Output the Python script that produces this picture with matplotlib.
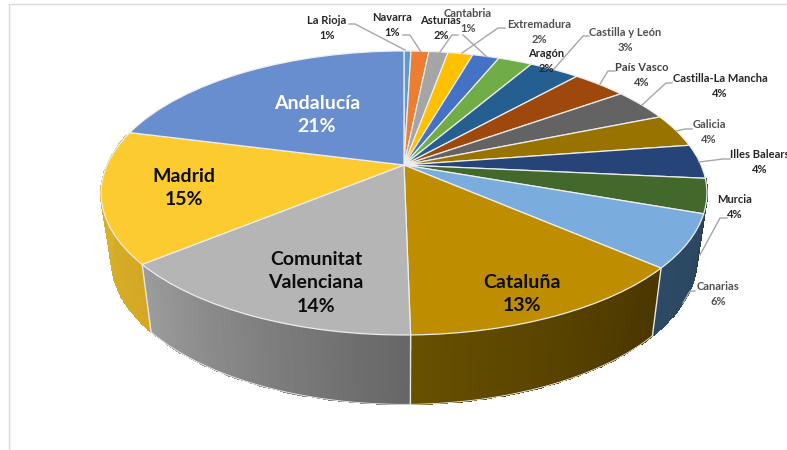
import numpy as np
import matplotlib
matplotlib.use("Agg")
import matplotlib.pyplot as plt
from matplotlib.colors import LinearSegmentedColormap
from matplotlib.transforms import Transform

plt.rcParams['font.family'] = ['Lato', 'DejaVu Sans']

regions = ["La Rioja", "Navarra", "Asturias", "Extremadura", "Cantabria", "Aragón",
           "Castilla y León", "País Vasco", "Castilla-La Mancha", "Galicia",
           "Illes Balears", "Murcia", "Canarias", "Cataluña", "Comunitat\nValenciana",
           "Madrid", "Andalucía"]
shares = [0.45, 1.15, 1.23, 1.62, 1.72, 2.2, 3.26, 3.5, 3.7, 3.8, 3.9, 3.9, 6.0,
          13.3, 14.3, 15.0, 21.0]
share_labels = ["1%", "1%", "2%", "2%", "1%", "2%", "3%", "4%", "4%", "4%", "4%", "4%", "6%",
                "13%", "14%", "15%", "21%"]

face_colors = ["#5B9BD5", "#ED7D31", "#A5A5A5", "#FFC000", "#4472C4", "#70AD47", "#255E91",
               "#9E480E", "#636363", "#997300", "#264478", "#43682B", "#7AADDE",
               "#BE8E00", "#B5B5B5", "#FBCB30", "#698ED0"]
wall_left = {11: "#2A4020", 12: "#2C4A66", 13: "#675000", 14: "#9C9C9C", 15: "#DDB630"}
wall_right = {11: "#2A4020", 12: "#2C4660", 13: "#4A3600", 14: "#666666", 15: "#D4A824"}

# layout (pixel positions in the 787x450 frame)
label_pos = [(327, 28), (392, 25), (441, 28), (539, 32), (468, 21), (546, 61), (625, 40),
             (642, 75), (720, 86), (709, 132), (760, 162), (735, 207), (718, 294),
             (522, 294), (316, 283), (184, 188), (317, 115)]
label_col = ["#262626", "#262626", "#262626", "#505050", "#505050", "#262626", "#505050",
             "#404040", "#262626", "#505050", "#262626", "#262626", "#505050",
             "#0D0D0D", "#0D0D0D", "#0D0D0D", "#FFFFFF"]
leaders = [[(349, 24), (355, 24), (405, 50)],
           [(403, 35), (410, 35), (421, 52)],
           [(458, 35), (452, 35), (440, 52)],
           [(505, 28), (498, 28), (462, 53)],
           [(463, 35), (487, 57)],
           [],
           [(589, 36), (583, 36), (553, 70)],
           [(615, 71), (608, 71), (600, 84)],
           [(672, 83), (666, 83), (642, 105)],
           [(692, 129), (685, 129), (676, 131)],
           [(730, 159), (723, 159), (699, 162)],
           [(727, 218), (720, 218), (700, 255)],
           [(695, 291), (690, 291), (683, 303)]]

TOP = dict(cx=404, cy=165, r=297, s=136.5, k=0.197)
BOT = dict(cx=404, cy=230, r=287, s=140, k=0.197)


def project(X, Y, cx, cy, r, s, k):
    w = 1 + k * Y
    return cx + r * X / w, cy - s * Y / w


class Perspective(Transform):
    input_dims = 2
    output_dims = 2

    def transform_non_affine(self, values):
        v = np.asarray(values, float)
        x, y = project(v[:, 0], v[:, 1], **TOP)
        return np.column_stack([x, y])


fig = plt.figure(figsize=(7.87, 4.5), dpi=100)
ax = fig.add_axes([0, 0, 1, 1])

edges = np.concatenate([[0], np.cumsum(shares)]) / np.sum(shares) * 2 * np.pi

# side walls
for i in wall_left:
    t = np.linspace(edges[i], edges[i + 1], 60)
    X, Y = np.sin(t), np.cos(t)
    xt, yt = project(X, Y, **TOP)
    xb, yb = project(X, Y, **BOT)
    gx = np.vstack([xt, xb])
    gy = np.vstack([yt, yb])
    left_first = xt[0] > xt[-1]
    ramp = np.linspace(1, 0, 59) if left_first else np.linspace(0, 1, 59)
    cmap = LinearSegmentedColormap.from_list("w", [wall_left[i], wall_right[i]])
    ax.pcolormesh(gx, gy, ramp[None, :], cmap=cmap, vmin=0, vmax=1,
                  shading="flat", edgecolors="face", linewidth=0.3, zorder=1)
    if i in (13, 14):
        ax.plot(xb, yb, color="#F2F2F2", lw=0.6, zorder=1.5)

for i in [13, 14, 15]:
    t = edges[i]
    xt, yt = project(np.sin(t), np.cos(t), **TOP)
    xb, yb = project(np.sin(t), np.cos(t), **BOT)
    ax.plot([xt, xb], [yt, yb], color="#E6E6E6", lw=1.0, zorder=1.6)

# top face
wedges, _ = ax.pie(shares, colors=face_colors, startangle=90, counterclock=False,
                   radius=1, wedgeprops=dict(edgecolor="#EDEDED", linewidth=0.9))
persp = Perspective() + ax.transData
for w in wedges:
    w.set_transform(persp)
    w.set_zorder(2)

ax.set_aspect("auto")
ax.set_xlim(0, 787)
ax.set_ylim(450, 0)
ax.axis("off")

# frame remains
ax.plot([9, 9, 787], [450, 4, 4], color="#D9D9D9", lw=1.0, zorder=0)

# leader lines
for pts in leaders:
    if pts:
        xs, ys = zip(*pts)
        ax.plot(xs, ys, color="#A6A6A6", lw=1.0, zorder=3)

# labels
for i, (name, lab) in enumerate(zip(regions, share_labels)):
    x, y = label_pos[i]
    big = i >= 13
    ax.text(x, y, f"{name}\n{lab}", ha="center", va="center", ma="center",
            fontsize=14 if big else 8, fontweight="bold",
            color=label_col[i], linespacing=1.45, zorder=4)

fig.savefig("out.png", dpi=100)
